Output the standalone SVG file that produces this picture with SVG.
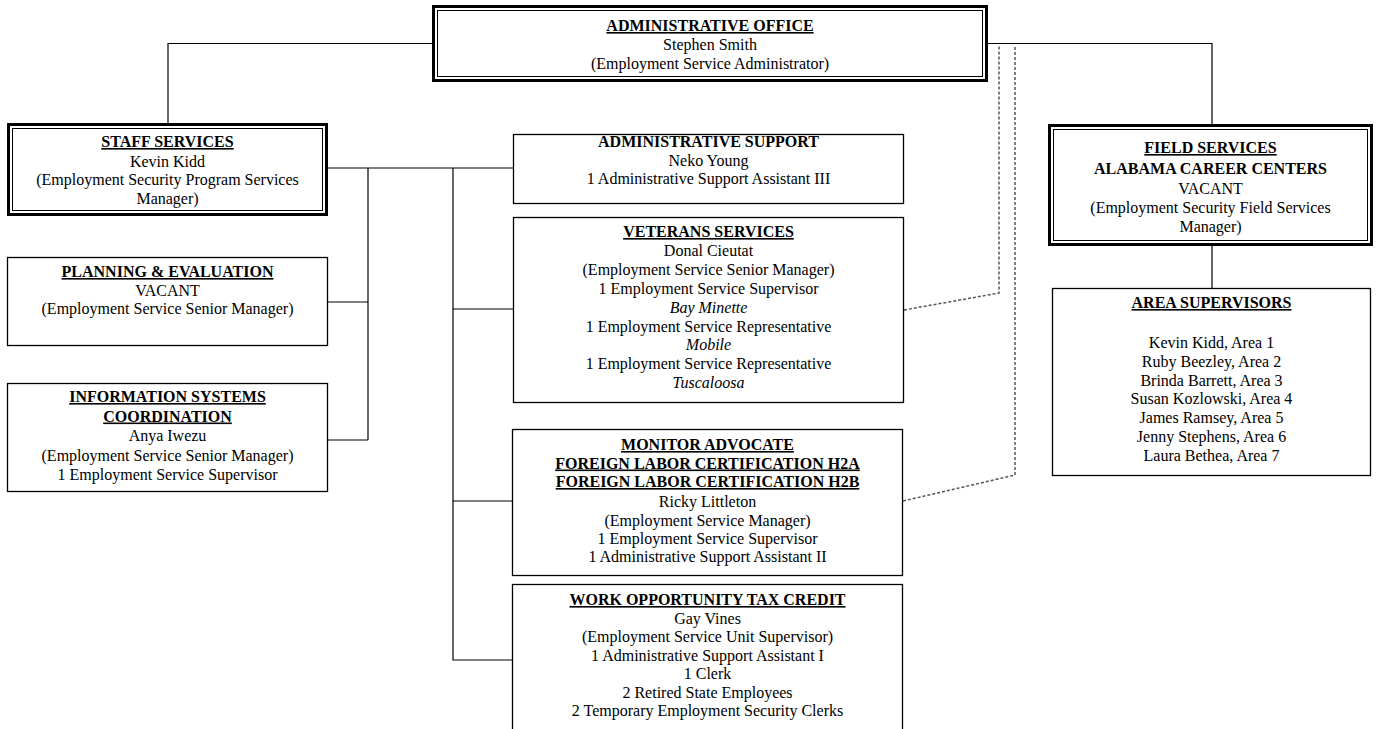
<svg xmlns="http://www.w3.org/2000/svg" width="1377" height="729" viewBox="0 0 1377 729">
<style>
  text { font-family: "Liberation Serif", "Times New Roman", serif; font-size: 16px; fill: #000; text-anchor: middle; }
  .t { font-weight: bold; }
  .u { font-weight: bold; text-decoration: underline; }
  .i { font-style: italic; }
  .box { fill: #fff; stroke: #000; stroke-width: 1.3; }
  .outer { fill: #fff; stroke: #000; stroke-width: 3; }
  .inner { fill: none; stroke: #000; stroke-width: 1; }
  .ln { fill: none; stroke: #000; stroke-width: 1.2; }
  .dot { fill: none; stroke: #555; stroke-width: 1.5; stroke-dasharray: 3 2; }
</style>
<rect width="1377" height="729" fill="#fff"/>
<g id="connectors">
  <polyline class="ln" points="432,43.5 168,43.5 168,124"/>
  <polyline class="ln" points="988,43.5 1212,43.5 1212,124"/>
  <line class="ln" x1="1212" y1="246" x2="1212" y2="288"/>
  <line class="ln" x1="328" y1="168" x2="513" y2="168"/>
  <line class="ln" x1="368" y1="168" x2="368" y2="440"/>
  <line class="ln" x1="328" y1="302" x2="368" y2="302"/>
  <line class="ln" x1="328" y1="440" x2="368" y2="440"/>
  <polyline class="ln" points="453,168 453,660 512,660"/>
  <line class="ln" x1="453" y1="309" x2="513" y2="309"/>
  <line class="ln" x1="453" y1="501" x2="512" y2="501"/>
  <polyline class="dot" points="904,310 999,293 999,45"/>
  <polyline class="dot" points="903,501 1015,475 1015,45"/>
</g>
<g id="admin-office">
  <rect class="outer" x="433.5" y="6.5" width="553" height="74"/>
  <rect class="inner" x="437.5" y="10.5" width="545" height="66"/>
  <text class="u" x="710" y="31">ADMINISTRATIVE OFFICE</text>
  <text x="710" y="50">Stephen Smith</text>
  <text x="710" y="69">(Employment Service Administrator)</text>
</g>
<g id="staff-services">
  <rect class="outer" x="8.5" y="124.5" width="318" height="90"/>
  <rect class="inner" x="12.5" y="128.5" width="310" height="82"/>
  <text class="u" x="167.5" y="147">STAFF SERVICES</text>
  <text x="167.5" y="166.5">Kevin Kidd</text>
  <text x="167.5" y="185">(Employment Security Program Services</text>
  <text x="167.5" y="203.5">Manager)</text>
</g>
<g id="planning-evaluation">
  <rect class="box" x="7.5" y="257.5" width="320" height="88"/>
  <text class="u" x="167.5" y="277">PLANNING &amp; EVALUATION</text>
  <text x="167.5" y="296">VACANT</text>
  <text x="167.5" y="314">(Employment Service Senior Manager)</text>
</g>
<g id="information-systems">
  <rect class="box" x="7.5" y="383.5" width="320" height="108"/>
  <text class="u" x="167.5" y="402">INFORMATION SYSTEMS</text>
  <text class="u" x="167.5" y="421.5">COORDINATION</text>
  <text x="167.5" y="441">Anya Iwezu</text>
  <text x="167.5" y="460.5">(Employment Service Senior Manager)</text>
  <text x="167.5" y="480">1 Employment Service Supervisor</text>
</g>
<g id="administrative-support">
  <rect class="box" x="513.5" y="134.5" width="390" height="69"/>
  <text class="t" x="708.5" y="147">ADMINISTRATIVE SUPPORT</text>
  <text x="708.5" y="166">Neko Young</text>
  <text x="708.5" y="184">1 Administrative Support Assistant III</text>
</g>
<g id="veterans-services">
  <rect class="box" x="513.5" y="217.5" width="390" height="185"/>
  <text class="u" x="708.5" y="237">VETERANS SERVICES</text>
  <text x="708.5" y="255.9">Donal Cieutat</text>
  <text x="708.5" y="274.8">(Employment Service Senior Manager)</text>
  <text x="708.5" y="293.7">1 Employment Service Supervisor</text>
  <text class="i" x="708.5" y="312.6">Bay Minette</text>
  <text x="708.5" y="331.5">1 Employment Service Representative</text>
  <text class="i" x="708.5" y="350.4">Mobile</text>
  <text x="708.5" y="369.3">1 Employment Service Representative</text>
  <text class="i" x="708.5" y="388.2">Tuscaloosa</text>
</g>
<g id="monitor-advocate">
  <rect class="box" x="512.5" y="429.5" width="390" height="146"/>
  <text class="u" x="707.5" y="450">MONITOR ADVOCATE</text>
  <text class="u" x="707.5" y="468.5">FOREIGN LABOR CERTIFICATION H2A</text>
  <text class="u" x="707.5" y="487">FOREIGN LABOR CERTIFICATION H2B</text>
  <text x="707.5" y="507">Ricky Littleton</text>
  <text x="707.5" y="526">(Employment Service Manager)</text>
  <text x="707.5" y="544">1 Employment Service Supervisor</text>
  <text x="707.5" y="562">1 Administrative Support Assistant II</text>
</g>
<g id="work-opportunity-tax-credit">
  <rect class="box" x="512.5" y="584.5" width="390" height="160"/>
  <text class="u" x="707.5" y="605">WORK OPPORTUNITY TAX CREDIT</text>
  <text x="707.5" y="623.5">Gay Vines</text>
  <text x="707.5" y="642">(Employment Service Unit Supervisor)</text>
  <text x="707.5" y="660.5">1 Administrative Support Assistant I</text>
  <text x="707.5" y="679">1 Clerk</text>
  <text x="707.5" y="697.5">2 Retired State Employees</text>
  <text x="707.5" y="716">2 Temporary Employment Security Clerks</text>
</g>
<g id="field-services">
  <rect class="outer" x="1049.5" y="125.5" width="322" height="119"/>
  <rect class="inner" x="1053.5" y="129.5" width="314" height="111"/>
  <text class="u" x="1210.5" y="153">FIELD SERVICES</text>
  <text class="t" x="1210.5" y="174">ALABAMA CAREER CENTERS</text>
  <text x="1210.5" y="193.5">VACANT</text>
  <text x="1210.5" y="212.5">(Employment Security Field Services</text>
  <text x="1210.5" y="231.5">Manager)</text>
</g>
<g id="area-supervisors">
  <rect class="box" x="1052.5" y="288.5" width="318" height="187"/>
  <text class="u" x="1211.5" y="308">AREA SUPERVISORS</text>
  <text x="1211.5" y="348">Kevin Kidd, Area 1</text>
  <text x="1211.5" y="366.8">Ruby Beezley, Area 2</text>
  <text x="1211.5" y="385.6">Brinda Barrett, Area 3</text>
  <text x="1211.5" y="404.4">Susan Kozlowski, Area 4</text>
  <text x="1211.5" y="423.2">James Ramsey, Area 5</text>
  <text x="1211.5" y="442">Jenny Stephens, Area 6</text>
  <text x="1211.5" y="460.8">Laura Bethea, Area 7</text>
</g>
</svg>
